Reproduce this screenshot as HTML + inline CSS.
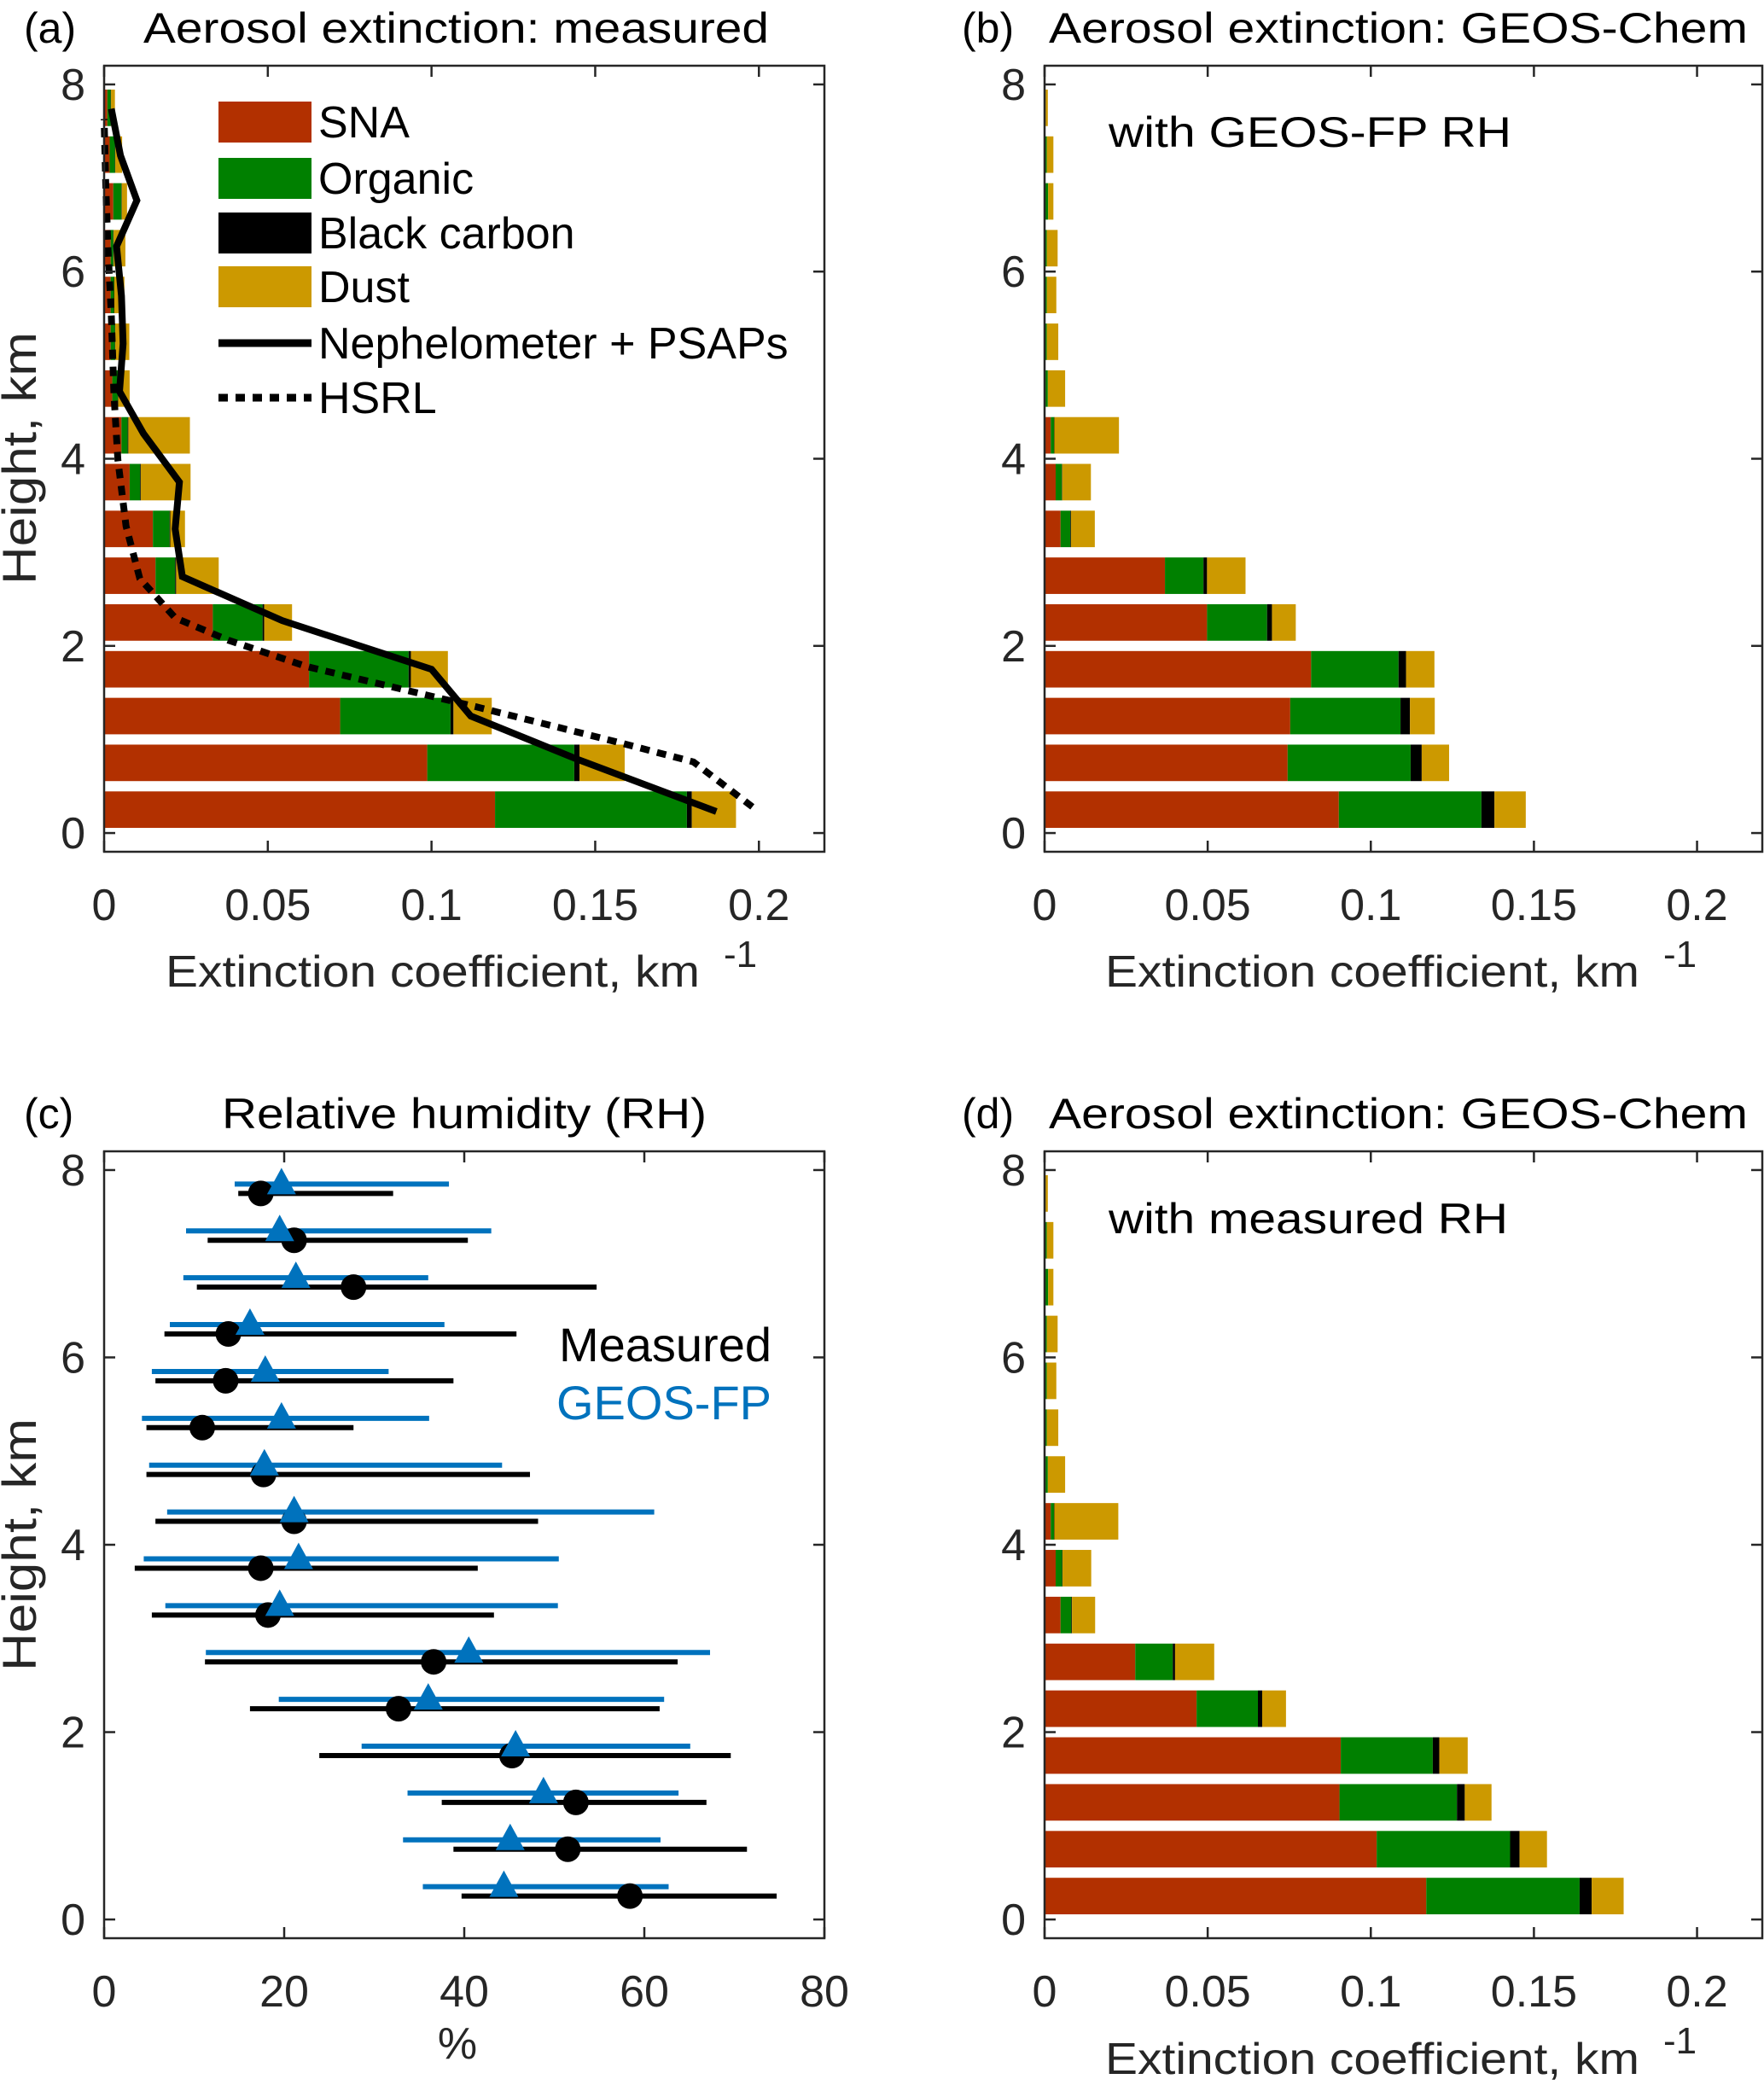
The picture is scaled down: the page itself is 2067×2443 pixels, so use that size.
<!DOCTYPE html>
<html><head><meta charset="utf-8"><style>
html,body{margin:0;padding:0;background:#fff;}
svg{display:block;font-family:"Liberation Sans",Arial,sans-serif;}
</style></head><body>
<svg id="fig" width="2067" height="2443" viewBox="0 0 2067 2443" xmlns="http://www.w3.org/2000/svg"></svg>
<script>
// ---------- data ----------
const heights = [0.25,0.75,1.25,1.75,2.25,2.75,3.25,3.75,4.25,4.75,5.25,5.75,6.25,6.75,7.25,7.75];
const xTicksExt = [0,0.05,0.1,0.15,0.2];
const xTickLabelsExt = ["0","0.05","0.1","0.15","0.2"];
const yTicks = [0,2,4,6,8];
const yTickLabels = ["0","2","4","6","8"];
const xTicksRH = [0,20,40,60,80];
const xTickLabelsRH = ["0","20","40","60","80"];

const aSNA  = [0.1194,0.0987,0.0721,0.0626,0.0332,0.0157,0.0149,0.0078,0.0053,0.0025,0.002,0.002,0.002,0.0028,0.0017,0.001];
const aOrg  = [0.0586,0.0449,0.0337,0.0304,0.0152,0.006,0.0051,0.0032,0.0019,0.0017,0.0013,0.001,0.0008,0.0025,0.0016,0.001];
const aBC   = [0.0015,0.0016,0.0009,0.0007,0.0005,0.0003,0.0002,0.0002,0.0002,0.0001,0.0001,0.0001,0.0001,0.0001,0.0001,0.0001];
const aDust = [0.0135,0.0138,0.0117,0.0113,0.0085,0.013,0.0045,0.0152,0.0188,0.0035,0.0043,0.0031,0.0036,0.0016,0.0021,0.0012];

const bSNA  = [0.0902,0.0745,0.0753,0.0817,0.0498,0.0369,0.0049,0.0034,0.0019,0.0003,0.0002,0.0002,0.0002,0.0002,0.0002,0.0001];
const bOrg  = [0.0437,0.0377,0.0338,0.0268,0.0184,0.0118,0.003,0.0019,0.001,0.0007,0.0005,0.0005,0.0005,0.0009,0.0005,0.0002];
const bBC   = [0.004,0.0034,0.0029,0.0023,0.0015,0.0011,0.0002,0.0001,0.0001,0,0,0,0,0,0,0];
const bDust = [0.0096,0.0084,0.0076,0.0087,0.0073,0.0118,0.0073,0.0088,0.0198,0.0053,0.0035,0.0029,0.0033,0.0016,0.002,0.0007];

const dSNA  = [0.117,0.1018,0.0904,0.0908,0.0466,0.0278,0.0049,0.0034,0.0019,0.0003,0.0002,0.0002,0.0002,0.0002,0.0002,0.0001];
const dOrg  = [0.047,0.0409,0.036,0.0282,0.0188,0.0115,0.0033,0.002,0.001,0.0007,0.0005,0.0005,0.0005,0.0009,0.0005,0.0002];
const dBC   = [0.0037,0.0029,0.0024,0.002,0.0013,0.0007,0.0002,0.0001,0.0001,0,0,0,0,0,0,0];
const dDust = [0.0098,0.0084,0.0082,0.0087,0.0073,0.012,0.0071,0.0088,0.0196,0.0053,0.0035,0.0029,0.0033,0.0016,0.002,0.0007];

const nephX = [0.187,0.1444,0.112,0.100,0.0544,0.0239,0.0217,0.023,0.012,0.0047,0.0058,0.0053,0.0038,0.010,0.005,0.0022];
const nephH = [0.23,0.79,1.25,1.75,2.27,2.74,3.25,3.75,4.27,4.72,5.23,5.74,6.27,6.76,7.24,7.74];
const hsrlX = [0.198,0.180,0.157,0.1135,0.0918,0.0618,0.038,0.0217,0.0109,0.0067,0.0042,0.003,0.0022,0.0012,0.0005,0];
const hsrlH = [0.28,0.76,0.97,1.35,1.53,1.78,2.06,2.30,2.72,3.28,3.99,4.69,5.53,6.23,6.93,7.63];

const rhMeas   = [58.4,51.5,52.4,45.3,32.7,36.6,18.2,17.4,21.1,17.7,10.9,13.5,13.8,27.7,21.1,17.4];
const rhMeasLo = [39.7,38.8,37.5,23.9,16.2,11.2,5.3,3.4,5.7,4.7,4.7,5.7,6.7,10.3,11.5,14.9];
const rhMeasHi = [74.7,71.4,66.9,69.6,61.7,63.7,43.3,41.5,48.2,47.3,27.7,38.8,45.8,54.7,40.4,32.1];
const rhGeos   = [44.4,45.1,48.8,45.7,36.0,40.5,19.5,21.6,21.1,17.8,19.7,17.9,16.2,21.3,19.5,19.7];
const rhGeosLo = [35.4,33.2,33.7,28.6,19.4,11.3,6.8,4.4,7.0,5.0,4.2,5.3,7.3,8.8,9.1,14.5];
const rhGeosHi = [62.7,61.8,63.8,65.1,62.2,67.3,50.4,50.5,61.1,44.2,36.1,31.6,37.8,36.0,43.0,38.3];

// ---------- helpers ----------
const NS = "http://www.w3.org/2000/svg";
const svg = document.getElementById('fig');
const C = {sna:"#B23000", org:"#008000", bc:"#000000", dust:"#CC9900", blue:"#0072BD", ax:"#262626"};
function el(tag, attrs, parent){
  const e = document.createElementNS(NS, tag);
  for (const k in attrs) e.setAttribute(k, attrs[k]);
  (parent||svg).appendChild(e);
  return e;
}
function txt(s, attrs, parent){ const t = el('text', attrs, parent); t.textContent = s; return t; }

function makeAxes(name, x0, x1, y0, y1, xmin, xmax, ymin, ymax, xt, xtl){
  const g = el('g', {});
  
  
  const sx = v => x0 + (v - xmin) / (xmax - xmin) * (x1 - x0);
  const sy = v => y1 - (v - ymin) / (ymax - ymin) * (y1 - y0);
  return {g, sx, sy, x0, x1, y0, y1, xt, xtl};
}
function drawFrame(A){
  const {g, sx, sy, x0, x1, y0, y1, xt, xtl} = A;
  const f = el('rect', {x:x0, y:y0, width:x1-x0, height:y1-y0, fill:"none", stroke:C.ax, "stroke-width":2.5}, g);
  
  
  const tl = 13;
  xt.forEach((v,i) => {
    const x = sx(v);
    el('line', {x1:x, x2:x, y1:y1, y2:y1-tl, stroke:C.ax, "stroke-width":2.5}, g);
    el('line', {x1:x, x2:x, y1:y0, y2:y0+tl, stroke:C.ax, "stroke-width":2.5}, g);
    const t = txt(xtl[i], {x:x, y:y1+80, "font-size":52, "text-anchor":"middle", fill:C.ax}, g);
    
    
  });
  yTicks.forEach((v,i) => {
    const y = sy(v);
    el('line', {x1:x0, x2:x0+tl, y1:y, y2:y, stroke:C.ax, "stroke-width":2.5}, g);
    el('line', {x1:x1, x2:x1-tl, y1:y, y2:y, stroke:C.ax, "stroke-width":2.5}, g);
    const t = txt(yTickLabels[i], {x:x0-22, y:y+18, "font-size":52, "text-anchor":"end", fill:C.ax}, g);
    
    
  });
}
function drawBars(A, sna, org, bc, dust){
  const {g, sx, sy} = A;
  const half = 0.195;
  heights.forEach((h,i) => {
    const parts = [[sna[i],C.sna,'sna'],[org[i],C.org,'organic'],[bc[i],C.bc,'black-carbon'],[dust[i],C.dust,'dust']];
    let cum = 0;
    parts.forEach(p => {
      if (p[0] <= 0) return;
      const xa = sx(cum), xb = sx(cum + p[0]);
      const r = el('rect', {x:xa, y:sy(h+half), width:Math.max(xb-xa,0.5), height:sy(h-half)-sy(h+half), fill:p[1]}, g);
      
      
      cum += p[0];
    });
  });
}

// ---------- panel a ----------
const A = makeAxes('panel-a', 122, 966, 77, 998, 0, 0.22, -0.2, 8.2, xTicksExt, xTickLabelsExt);
drawBars(A, aSNA, aOrg, aBC, aDust);
const hs = el('polyline', {points: hsrlX.map((v,i)=>A.sx(v)+","+A.sy(hsrlH[i])).join(" "), fill:"none", stroke:"#000", "stroke-width":8, "stroke-dasharray":"11 9"}, A.g);


const np = el('polyline', {points: nephX.map((v,i)=>A.sx(v)+","+A.sy(nephH[i])).join(" "), fill:"none", stroke:"#000", "stroke-width":8, "stroke-linejoin":"miter"}, A.g);


drawFrame(A);
// legend
const legItems = [["SNA",C.sna,"box"],["Organic",C.org,"box"],["Black carbon",C.bc,"box"],["Dust",C.dust,"box"],["Nephelometer + PSAPs","#000","line"],["HSRL","#000","dots"]];
const legY = [143,209,273,336,402,466];
legItems.forEach((it,i) => {
  const g = el('g', {}, A.g);
  
  
  const y = legY[i];
  if (it[2]==="box") el('rect', {x:256, y:y-24, width:109, height:48, fill:it[1]}, g);
  else if (it[2]==="line") el('line', {x1:256, x2:365, y1:y, y2:y, stroke:"#000", "stroke-width":9}, g);
  else el('line', {x1:256, x2:365, y1:y, y2:y, stroke:"#000", "stroke-width":9, "stroke-dasharray":"11 9"}, g);
  txt(it[0], {x:373, y:y+18, "font-size":52, fill:"#000"}, g);
});

// ---------- panel b ----------
const B = makeAxes('panel-b', 1224, 2065, 77, 998, 0, 0.22, -0.2, 8.2, xTicksExt, xTickLabelsExt);
drawBars(B, bSNA, bOrg, bBC, bDust);
drawFrame(B);

// ---------- panel d ----------
const D = makeAxes('panel-d', 1224, 2065, 1349, 2271, 0, 0.22, -0.2, 8.2, xTicksExt, xTickLabelsExt);
drawBars(D, dSNA, dOrg, dBC, dDust);
drawFrame(D);

// ---------- panel c ----------
const Cc = makeAxes('panel-c', 122, 966, 1349, 2271, 0, 80, -0.2, 8.2, xTicksRH, xTickLabelsRH);
heights.forEach((h,i) => {
  const hm = h, hg = h + 0.1;
  const lm = el('line', {x1:Cc.sx(rhMeasLo[i]), x2:Cc.sx(rhMeasHi[i]), y1:Cc.sy(hm), y2:Cc.sy(hm), stroke:"#000", "stroke-width":6}, Cc.g);
  
  
  const lg = el('line', {x1:Cc.sx(rhGeosLo[i]), x2:Cc.sx(rhGeosHi[i]), y1:Cc.sy(hg), y2:Cc.sy(hg), stroke:C.blue, "stroke-width":6}, Cc.g);
  
  
  const cm = el('circle', {cx:Cc.sx(rhMeas[i]), cy:Cc.sy(hm), r:15, fill:"#000"}, Cc.g);
  
  
  const gx = Cc.sx(rhGeos[i]), gy = Cc.sy(hg);
  const tr = el('polygon', {points:`${gx-17},${gy+12} ${gx+17},${gy+12} ${gx},${gy-19}`, fill:C.blue}, Cc.g);
  
  
});
drawFrame(Cc);
</script>
<script>
// static text labels
const T = [
  ["(a)", 28, 50, 50, "start", "panel-a-label", null],
  ["Aerosol extinction: measured", 168, 50, 50, "start", "panel-a-title", 733],
  ["(b)", 1127, 50, 50, "start", "panel-b-label", null],
  ["Aerosol extinction: GEOS-Chem", 1229, 50, 50, "start", "panel-b-title", 819],
  ["with GEOS-FP RH", 1299, 172, 50, "start", "panel-b-annotation", 472],
  ["(c)", 28, 1322, 50, "start", "panel-c-label", null],
  ["Relative humidity (RH)", 260, 1322, 50, "start", "panel-c-title", 568],
  ["(d)", 1127, 1322, 50, "start", "panel-d-label", null],
  ["Aerosol extinction: GEOS-Chem", 1229, 1322, 50, "start", "panel-d-title", 819],
  ["with measured RH", 1299, 1445, 50, "start", "panel-d-annotation", 468],
  ["Measured", 904, 1595, 56, "end", "legend-measured", null],
  ["GEOS-FP", 904, 1663, 56, "end", "legend-geosfp", null],
  ["Extinction coefficient, km", 194, 1156, 52, "start", "x-axis-title-a", 626],
  ["-1", 848, 1133, 44, "start", "x-axis-title-a-exp", null],
  ["Extinction coefficient, km", 1295, 1156, 52, "start", "x-axis-title-b", 626],
  ["-1", 1949, 1133, 44, "start", "x-axis-title-b-exp", null],
  ["Extinction coefficient, km", 1295, 2430, 52, "start", "x-axis-title-d", 626],
  ["-1", 1949, 2406, 44, "start", "x-axis-title-d-exp", null],
  ["%", 536, 2412, 52, "middle", "x-axis-title-c", null]
];
const root = document.getElementById('fig');
T.forEach(r => {
  const t = document.createElementNS("http://www.w3.org/2000/svg", "text");
  t.setAttribute('x', r[1]); t.setAttribute('y', r[2]);
  t.setAttribute('font-size', r[3]); t.setAttribute('text-anchor', r[4]);
  t.setAttribute('fill', r[5]==="legend-geosfp" ? "#0072BD" : (r[5].indexOf('axis')>=0 ? "#262626" : "#000"));
  if (r[6]) { t.setAttribute('textLength', r[6]); t.setAttribute('lengthAdjust', 'spacingAndGlyphs'); }
  
  
  t.textContent = r[0];
  root.appendChild(t);
});
[[42,537,"y-axis-title-a"],[42,1810,"y-axis-title-c"]].forEach(r => {
  const t = document.createElementNS("http://www.w3.org/2000/svg", "text");
  t.setAttribute('x', r[0]); t.setAttribute('y', r[1]);
  t.setAttribute('font-size', 56); t.setAttribute('text-anchor', 'middle');
  t.setAttribute('fill', '#262626');
  t.setAttribute('textLength', 296);
  t.setAttribute('lengthAdjust', 'spacingAndGlyphs');
  t.setAttribute('transform', `rotate(-90 ${r[0]} ${r[1]})`);
  
  
  t.textContent = "Height, km";
  root.appendChild(t);
});
</script>
</body></html>
